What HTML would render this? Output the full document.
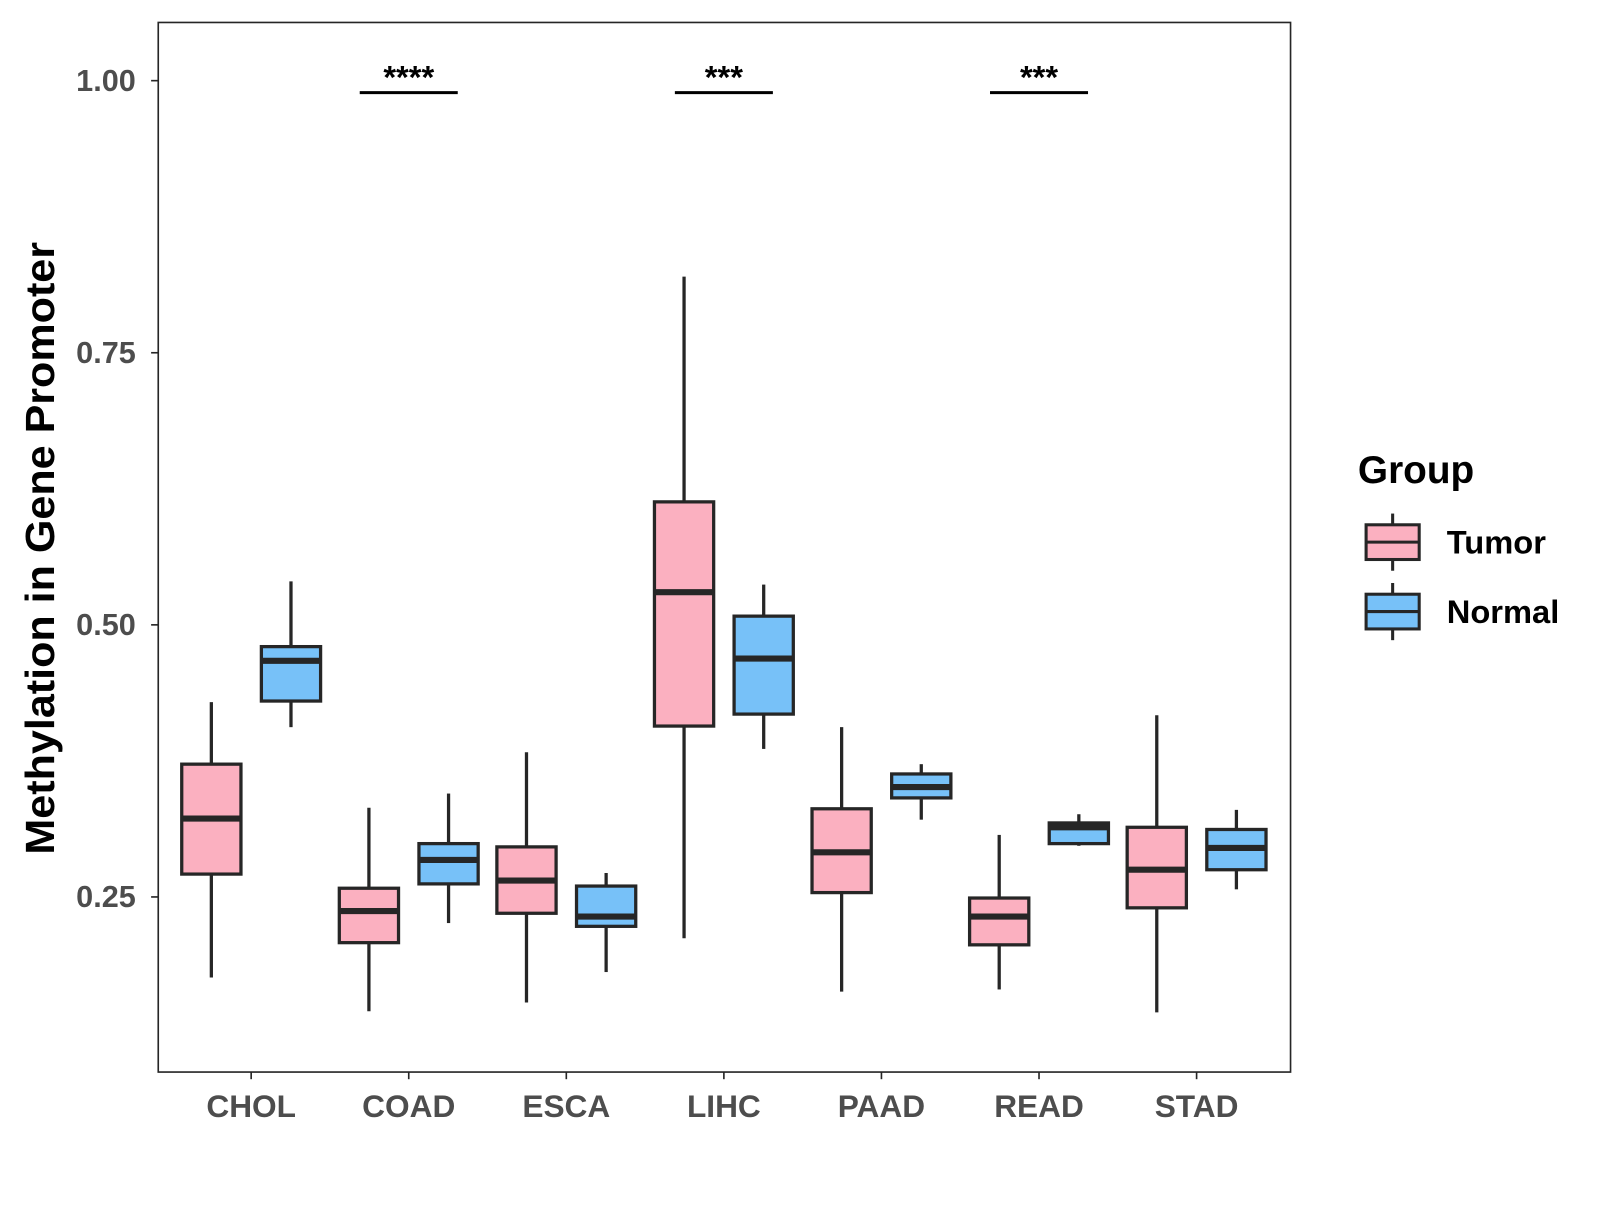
<!DOCTYPE html>
<html><head><meta charset="utf-8"><style>
body{margin:0;background:#fff}
svg text{font-family:"Liberation Sans",Arial,sans-serif;font-weight:bold}
</style></head><body>
<svg id="chart" width="1600" height="1200" viewBox="0 0 1600 1200">
<rect x="0" y="0" width="1600" height="1200" fill="#fff"/>
<g id="plot" transform="scale(1.021)"></g>
</svg>
<script>
const categories = ["CHOL","COAD","ESCA","LIHC","PAAD","READ","STAD"];
// [whiskerLow, q1, median, q3, whiskerHigh]
const tumorStats = [
 [0.176,0.271,0.322,0.372,0.429],
 [0.145,0.208,0.237,0.258,0.332],
 [0.153,0.235,0.265,0.296,0.383],
 [0.212,0.407,0.530,0.613,0.820],
 [0.163,0.254,0.291,0.331,0.406],
 [0.165,0.206,0.232,0.249,0.307],
 [0.144,0.240,0.275,0.314,0.417]
];
const normalStats = [
 [0.406,0.430,0.467,0.480,0.540],
 [0.226,0.262,0.284,0.299,0.345],
 [0.181,0.223,0.232,0.260,0.272],
 [0.386,0.418,0.469,0.508,0.537],
 [0.321,0.341,0.351,0.363,0.372],
 [0.297,0.299,0.314,0.318,0.326],
 [0.257,0.275,0.295,0.312,0.330]
];
const yTicks = [0.25,0.50,0.75,1.00];
const yTickLabels = ["0.25","0.50","0.75","1.00"];
const sigCategories = ["COAD","LIHC","READ"];
const sigLabels = ["****","***","***"];
const sigLevel = 0.989;

const NS="http://www.w3.org/2000/svg";
const g=document.getElementById('plot');
const panel={l:155,t:22,r:1264,b:1050};
const y=v=>79+(1-v)*1066;
const x=i=>246+i*154.33;
function el(tag,attrs,parent){const e=document.createElementNS(NS,tag);for(const k in attrs)e.setAttribute(k,attrs[k]);(parent||g).appendChild(e);return e;}
const ink="#262626";

const pr=el('rect',{x:panel.l,y:panel.t,width:panel.r-panel.l,height:panel.b-panel.t,fill:'none',stroke:ink,'stroke-width':1.6});



yTicks.forEach((v,i)=>{
 const t=el('line',{x1:panel.l-7,x2:panel.l,y1:y(v),y2:y(v),stroke:ink,'stroke-width':1.6});
 
 
 const tx=el('text',{x:133,y:y(v)+10,'text-anchor':'end','font-size':30,fill:'#4d4d4d'});
 tx.textContent=yTickLabels[i];
 
 
});
categories.forEach((c,i)=>{
 const t=el('line',{x1:x(i),x2:x(i),y1:panel.b,y2:panel.b+7,stroke:ink,'stroke-width':1.6});
 
 
 const tx=el('text',{x:x(i),y:1094,'text-anchor':'middle','font-size':31,fill:'#4d4d4d'});
 tx.textContent=c;
 
 
});

function box(cx,s,fill,name){
 const w=58;
 const grp=el('g',{});
 
 
 el('line',{x1:cx,x2:cx,y1:y(s[4]),y2:y(s[3]),stroke:ink,'stroke-width':3.2},grp);
 el('line',{x1:cx,x2:cx,y1:y(s[1]),y2:y(s[0]),stroke:ink,'stroke-width':3.2},grp);
 el('rect',{x:cx-w/2,y:y(s[3]),width:w,height:y(s[1])-y(s[3]),fill:fill,stroke:ink,'stroke-width':3.2},grp);
 el('line',{x1:cx-w/2,x2:cx+w/2,y1:y(s[2]),y2:y(s[2]),stroke:ink,'stroke-width':6},grp);
}
categories.forEach((c,i)=>{
 box(x(i)-39,tumorStats[i],'#fbb0c0','box-tumor-'+c.toLowerCase());
 box(x(i)+39,normalStats[i],'#77c1f8','box-normal-'+c.toLowerCase());
});

sigCategories.forEach((c,k)=>{
 const i=categories.indexOf(c);
 const l=el('line',{x1:x(i)-48,x2:x(i)+48,y1:y(sigLevel),y2:y(sigLevel),stroke:'#000','stroke-width':3});
 
 
 const t=el('text',{x:x(i),y:y(sigLevel)-4,'text-anchor':'middle','font-size':32,fill:'#000'});
 t.textContent=sigLabels[k];
 
 
});

const yt=el('text',{x:0,y:0,'text-anchor':'middle','font-size':40,textLength:600,lengthAdjust:'spacingAndGlyphs',fill:'#000',transform:'translate(53,537) rotate(-90)'});
yt.textContent='Methylation in Gene Promoter';



const lt=el('text',{x:1330,y:473,'font-size':38,fill:'#000'});
lt.textContent='Group';


[['Tumor','#fbb0c0',531],['Normal','#77c1f8',599]].forEach(([n,f,cy])=>{
 const lg=el('g',{});
 
 
 el('line',{x1:1364,x2:1364,y1:cy-28,y2:cy+28,stroke:ink,'stroke-width':3},lg);
 el('rect',{x:1338,y:cy-17,width:52,height:34,fill:f,stroke:ink,'stroke-width':3},lg);
 el('line',{x1:1338,x2:1390,y1:cy,y2:cy,stroke:ink,'stroke-width':3},lg);
 const t=el('text',{x:1417,y:cy+11,'font-size':32,fill:'#000'},lg);
 t.textContent=n;
});
</script>
</body></html>
